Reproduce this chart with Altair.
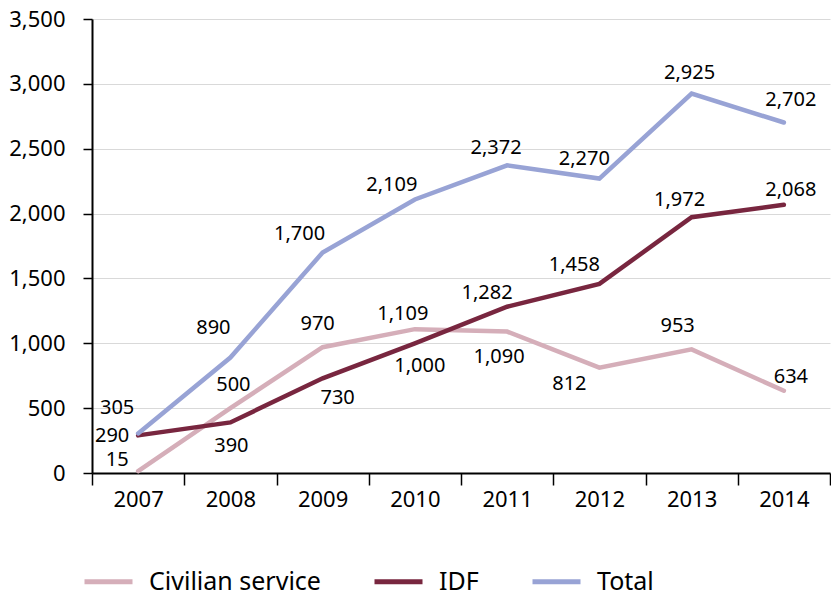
import altair as alt
import pandas as pd

years = ["2007", "2008", "2009", "2010", "2011", "2012", "2013", "2014"]
civilian = [15, 500, 970, 1109, 1090, 812, 953, 634]
idf = [290, 390, 730, 1000, 1282, 1458, 1972, 2068]
total = [305, 890, 1700, 2109, 2372, 2270, 2925, 2702]

series_names = ["Civilian service", "IDF", "Total"]
series_values = [civilian, idf, total]
colors = ["#D5AEB9", "#78263F", "#98A3D5"]

# label offsets (pixels) per series, per year
label_offsets = {
    "Civilian service": [(-21, -11), (3, -23), (-5, -23), (-12, -15), (-8, 25), (-30, 16), (-14, -23), (7, -14)],
    "IDF": [(-26, 1), (1, 24), (15, 20), (5, 23), (-20, -14), (-25, -19), (-12, -17), (7, -15)],
    "Total": [(-21, -25), (-17, -30), (-23, -18), (-23, -14), (-11, -17), (-15, -20), (-2, -21), (7, -23)],
}

rows = []
for name, vals in zip(series_names, series_values):
    for y, v in zip(years, vals):
        rows.append({"year": y, "value": v, "series": name,
                     "label": f"{v:,}"})
df = pd.DataFrame(rows)

FONT = "Noto Sans"

x_scale = alt.Scale(type="band", paddingInner=0, paddingOuter=0, domain=years)
y_scale = alt.Scale(domain=[0, 3500], nice=False)

x_axis = alt.Axis(title=None, tickBand="extent", labelAngle=0, domainColor="black",
                  tickColor="black", tickSize=12, tickWidth=1.5, domainWidth=2,
                  labelFontSize=22, labelFont=FONT, labelColor="black",
                  labelPadding=4, grid=False)
y_axis = alt.Axis(title=None, values=list(range(0, 3501, 500)), format=",.0f",
                  domainColor="black", domainWidth=2, tickColor="black",
                  tickSize=9, tickWidth=1.5, labelFontSize=22, labelFont=FONT,
                  labelColor="black", labelPadding=18, grid=True,
                  gridColor="#d9d9d9", gridWidth=1)

x_enc = alt.X("year:N", bandPosition=0.5, scale=x_scale, axis=x_axis)
y_enc = alt.Y("value:Q", scale=y_scale, axis=y_axis)

base = alt.Chart(df)

lines = base.mark_line(strokeWidth=4.5, strokeCap="round", strokeJoin="miter").encode(
    x=x_enc,
    y=y_enc,
    color=alt.Color("series:N",
                    scale=alt.Scale(domain=series_names, range=colors),
                    sort=series_names,
                    legend=alt.Legend(title=None, orient="none", direction="horizontal",
                                      legendX=-10, legendY=536, symbolType="stroke",
                                      symbolStrokeWidth=5, symbolSize=2304,
                                      labelFontSize=25, labelFont=FONT, labelColor="black",
                                      labelLimit=400,
                                      labelOffset=14, columnPadding=43, padding=0)),
    order=alt.Order("year:N"),
)

layers = [lines]
for name in series_names:
    for i, yr in enumerate(years):
        dx, dy = label_offsets[name][i]
        layers.append(
            base.transform_filter(
                (alt.datum.series == name) & (alt.datum.year == yr)
            ).mark_text(dx=dx, dy=dy, fontSize=20, font=FONT, color="black",
                        align="center", baseline="middle").encode(
                x=x_enc,
                y=y_enc,
                text="label:N",
            )
        )

chart = alt.layer(*layers).properties(
    width=738, height=454,
    background="white",
    autosize=alt.AutoSizeParams(type="none"),
    padding={"left": 92, "top": 19, "right": 1, "bottom": 124},
).configure_view(stroke=None)

chart.save("out.html", embed_options={"renderer": "svg", "actions": False})
